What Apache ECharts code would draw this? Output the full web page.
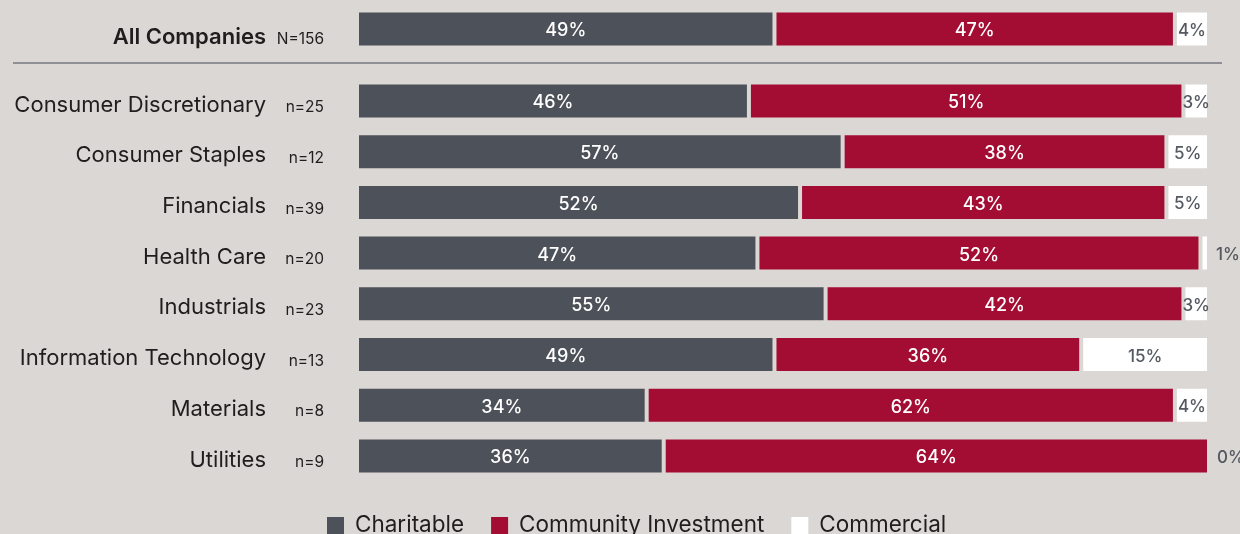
<!DOCTYPE html>
<html>
<head>
<meta charset="utf-8">
<script src="https://cdn.jsdelivr.net/npm/echarts@6/dist/echarts.min.js"></script>
<style>
  html, body { margin: 0; padding: 0; background: #dbd7d4; }
  #chart { width: 1240px; height: 534px; }
</style>
</head>
<body>
<div id="chart"></div>
<script>
// Overall figures
const overallCategory = ['All Companies'];
const overallN = ['N=156'];
const overallCharitable = [49];
const overallCommunity = [47];
const overallCommercial = [4];

// Breakdown by sector
const sectors = [
  'Consumer Discretionary', 'Consumer Staples', 'Financials', 'Health Care',
  'Industrials', 'Information Technology', 'Materials', 'Utilities'
];
const sectorN = ['n=25', 'n=12', 'n=39', 'n=20', 'n=23', 'n=13', 'n=8', 'n=9'];
const charitable = [46, 57, 52, 47, 55, 49, 34, 36];
const communityInvestment = [51, 38, 43, 52, 42, 36, 62, 64];
const commercial = [3, 5, 5, 1, 3, 15, 4, 0];

const seriesNames = ['Charitable', 'Community Investment', 'Commercial'];

const BG = '#dbd7d4';
const GREY = '#4d5159';
const RED = '#a40d33';
const WHITE = '#ffffff';
const FONT = 'Inter, "Noto Sans", sans-serif';

const chart = echarts.init(document.getElementById('chart'));

// Row label: sector name followed by a right-aligned sample size column
function axisLabel(nList, bold, dropPx) {
  return {
    margin: 33,
    padding: [dropPx, 0, 0, 0],
    formatter: (v, i) => '{name|' + v + '}{n|' + nList[i] + '}',
    rich: {
      name: { fontFamily: FONT, fontSize: 22, color: '#1f1d1e', fontWeight: bold ? 600 : 400 },
      n: { fontFamily: FONT, fontSize: 15.5, color: '#1f1d1e', width: 58, align: 'right', padding: [5, 0, 0, 0] }
    }
  };
}

// Small commercial shares are labelled just outside the bar end
function commercialData(arr) {
  return arr.map(v => ({
    value: v,
    label: v < 3 ? { position: 'right', distance: 7 } : { position: 'inside' }
  }));
}

function barSeries(name, data, color, labelColor, axisIdx, stack, labelSize) {
  return {
    name: name,
    type: 'bar',
    stack: stack,
    xAxisIndex: axisIdx,
    yAxisIndex: axisIdx,
    barWidth: 37,
    data: data,
    itemStyle: { color: color, borderColor: BG, borderWidth: 2 },
    label: {
      show: true,
      position: 'inside',
      offset: [0, 2],
      formatter: p => p.value + '%',
      fontFamily: FONT,
      fontSize: labelSize,
      fontWeight: 500,
      color: labelColor
    },
    emphasis: { disabled: true },
    animation: false
  };
}

const xAxisBase = { type: 'value', min: 0, max: 100, show: false };
const yAxisBase = {
  type: 'category', inverse: true,
  axisLine: { show: false }, axisTick: { show: false }, splitLine: { show: false }
};

chart.setOption({
  backgroundColor: BG,
  animation: false,
  legend: {
    data: seriesNames.map(n => ({ name: n })),
    left: 325,
    top: 514,
    padding: 0,
    icon: 'rect',
    itemWidth: 19,
    itemHeight: 19,
    itemGap: 25,
    textStyle: { fontFamily: FONT, fontSize: 22.5, color: '#1f1d1e', padding: [0, 0, 0, 5] },
    selectedMode: false
  },
  grid: [
    { left: 357, width: 852, top: 4, height: 50 },
    { left: 357, width: 852, top: 75.6, height: 405.7 }
  ],
  xAxis: [
    Object.assign({ gridIndex: 0 }, xAxisBase),
    Object.assign({ gridIndex: 1 }, xAxisBase)
  ],
  yAxis: [
    Object.assign({ gridIndex: 0, data: overallCategory, axisLabel: axisLabel(overallN, true, 16) }, yAxisBase),
    Object.assign({ gridIndex: 1, data: sectors, axisLabel: axisLabel(sectorN, false, 8) }, yAxisBase)
  ],
  graphic: [{
    type: 'line',
    shape: { x1: 13, y1: 63, x2: 1222, y2: 63 },
    style: { stroke: '#76787e', lineWidth: 1.6 },
    silent: true
  }],
  series: [
    barSeries(seriesNames[0], overallCharitable, GREY, '#ffffff', 0, 'all', 18),
    barSeries(seriesNames[1], overallCommunity, RED, '#ffffff', 0, 'all', 18),
    barSeries(seriesNames[2], commercialData(overallCommercial), WHITE, '#545860', 0, 'all', 17),
    barSeries(seriesNames[0], charitable, GREY, '#ffffff', 1, 'sector', 18),
    barSeries(seriesNames[1], communityInvestment, RED, '#ffffff', 1, 'sector', 18),
    barSeries(seriesNames[2], commercialData(commercial), WHITE, '#545860', 1, 'sector', 17)
  ]
});
</script>
</body>
</html>
